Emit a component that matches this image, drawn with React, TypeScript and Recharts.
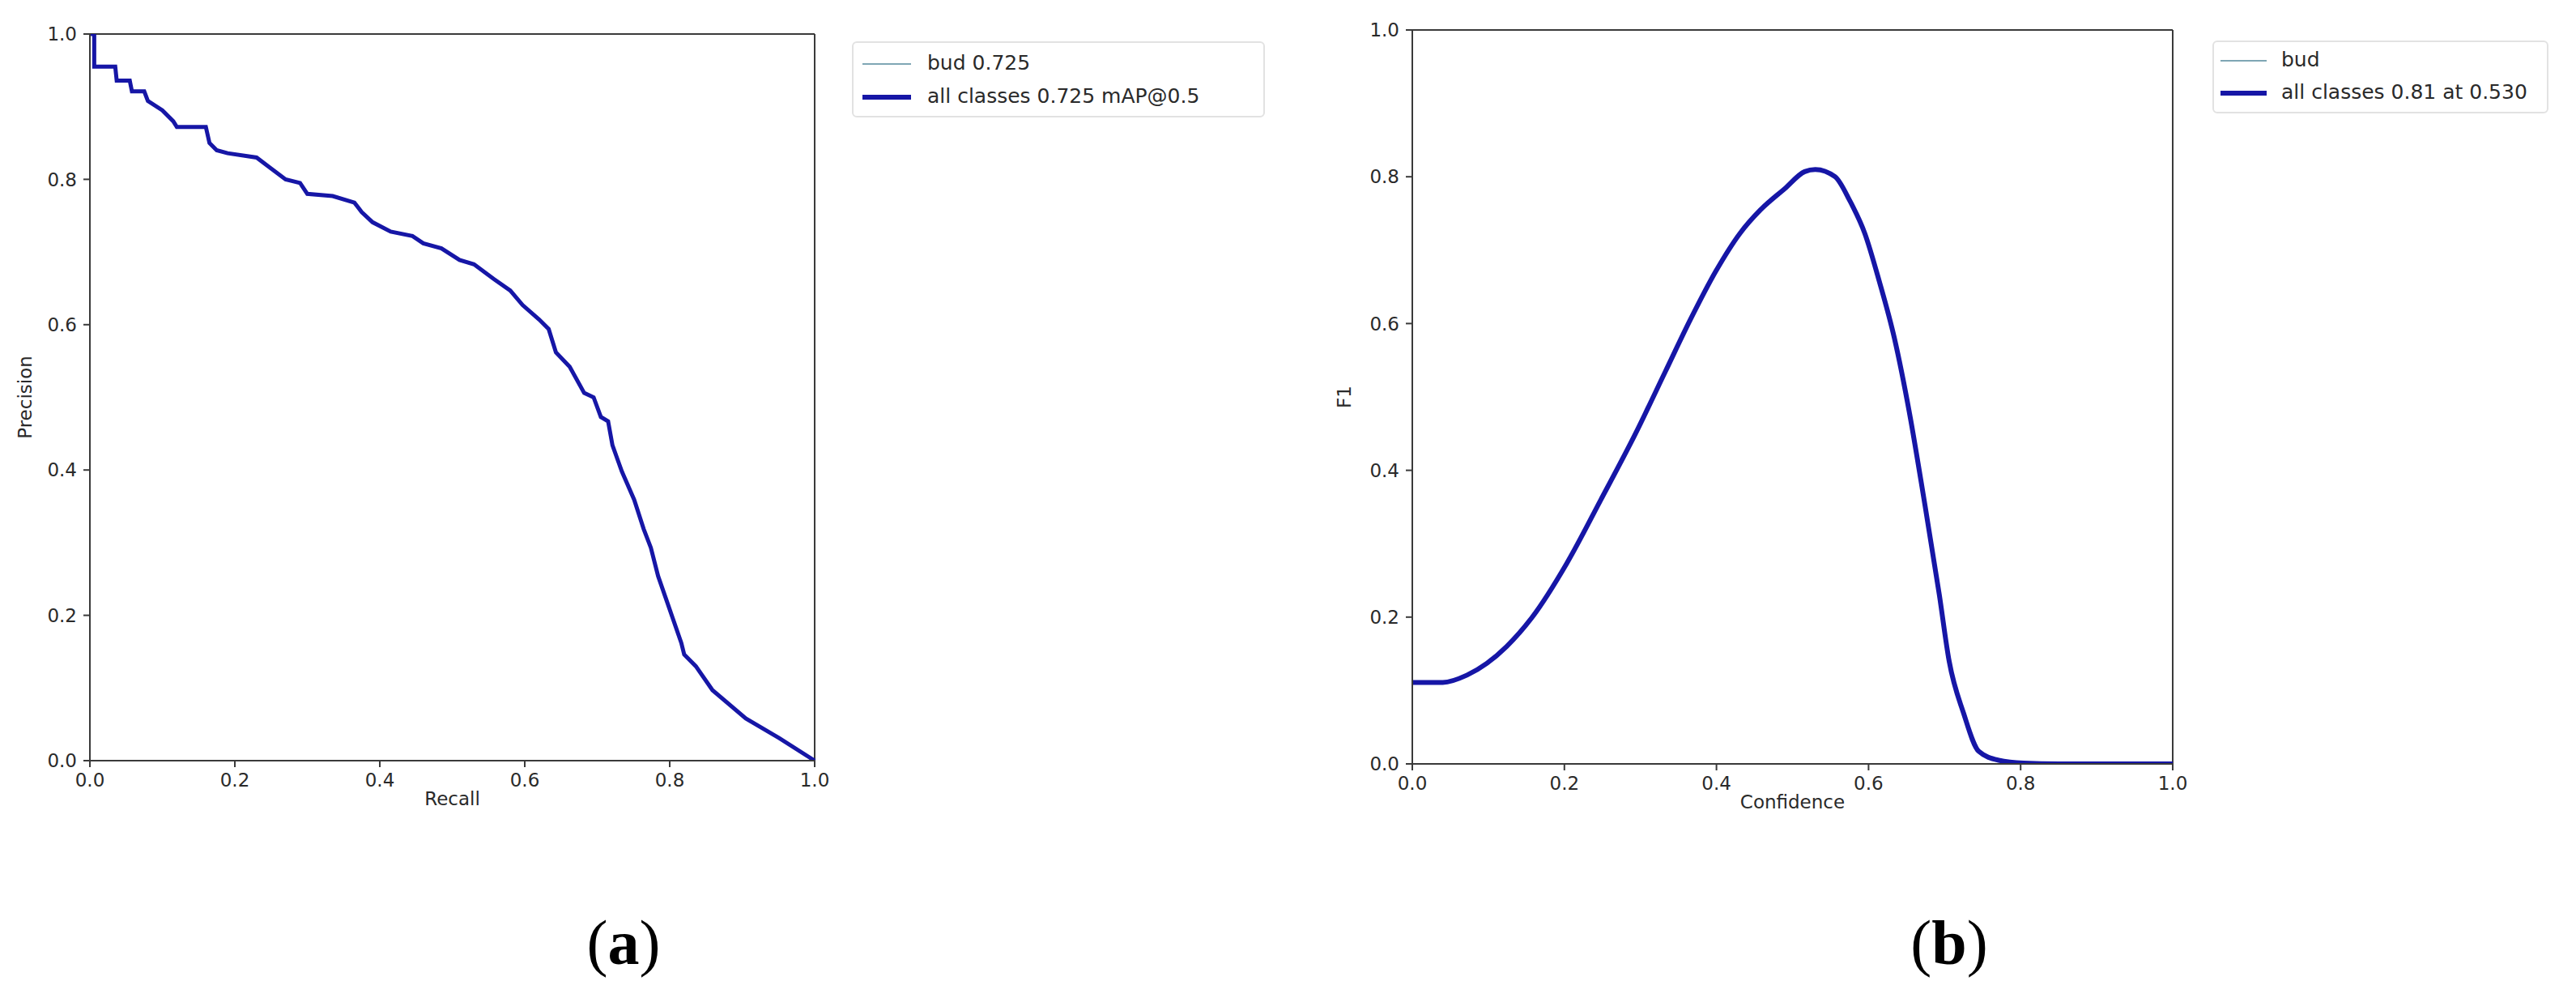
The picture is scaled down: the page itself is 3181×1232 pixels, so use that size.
import { LineChart, Line, XAxis, YAxis, ReferenceLine } from 'recharts'

// PR curve (a)
const recall = [0, 0.006, 0.006, 0.035, 0.037, 0.055, 0.058, 0.075, 0.08, 0.1, 0.115, 0.12, 0.16, 0.165, 0.175, 0.19, 0.23, 0.25, 0.27, 0.29, 0.3, 0.335, 0.365, 0.375, 0.39, 0.415, 0.445, 0.46, 0.485, 0.51, 0.53, 0.557, 0.58, 0.597, 0.62, 0.633, 0.643, 0.662, 0.682, 0.695, 0.705, 0.715, 0.721, 0.734, 0.751, 0.764, 0.774, 0.784, 0.8, 0.816, 0.82, 0.836, 0.859, 0.905, 0.951, 1.0]
const precision = [1.0, 1.0, 0.955, 0.955, 0.936, 0.936, 0.921, 0.921, 0.908, 0.895, 0.88, 0.872, 0.872, 0.85, 0.84, 0.836, 0.83, 0.815, 0.8, 0.795, 0.78, 0.777, 0.768, 0.755, 0.741, 0.728, 0.722, 0.712, 0.705, 0.689, 0.683, 0.663, 0.647, 0.627, 0.607, 0.594, 0.562, 0.542, 0.506, 0.5, 0.473, 0.467, 0.434, 0.398, 0.359, 0.319, 0.293, 0.254, 0.208, 0.162, 0.146, 0.13, 0.097, 0.058, 0.031, 0.0]

// F1 curve (b)
const confidence = [0, 0.04, 0.072, 0.098, 0.124, 0.157, 0.203, 0.248, 0.294, 0.333, 0.366, 0.399, 0.431, 0.458, 0.49, 0.516, 0.53, 0.556, 0.575, 0.595, 0.614, 0.634, 0.654, 0.673, 0.693, 0.706, 0.725, 0.745, 0.771, 0.804, 0.85, 0.9, 1.0]
const f1 = [0.111, 0.111, 0.121, 0.137, 0.16, 0.199, 0.273, 0.36, 0.451, 0.535, 0.606, 0.671, 0.723, 0.755, 0.784, 0.807, 0.81, 0.8, 0.768, 0.723, 0.658, 0.58, 0.477, 0.36, 0.231, 0.14, 0.069, 0.017, 0.005, 0.001, 0, 0, 0]

const ticks = [0, 0.2, 0.4, 0.6, 0.8, 1.0]
const prLegend = ['bud 0.725', 'all classes 0.725 mAP@0.5']
const f1Legend = ['bud', 'all classes 0.81 at 0.530']

const prData = recall.map((r, i) => ({ x: r, bud: precision[i], all: precision[i] }))
const f1Data = confidence.map((c, i) => ({ x: c, bud: f1[i], all: f1[i] }))

const FONT = '"DejaVu Sans", sans-serif'
const BLUE = '#1616a6'
const THIN = '#7fa6b4'
const SPINE = '#3a3a3a'
const tickStyle = { fill: '#2a2a2a', fontSize: 23, fontFamily: FONT }
const fmt = (v: number) => v.toFixed(1)

function Legend({ left, top, width, height, rows, rowY, sampleX, sampleW, textX }: any) {
    return (
        <div style={{ position: 'absolute', left, top, width, height, border: '2px solid #e2e2e2', borderRadius: 6, boxSizing: 'border-box', background: '#fff' }}>
            {rows.map((label: string, i: number) => (
                <div key={label} style={{ position: 'absolute', top: rowY[i], left: 0, height: 0 }}>
                    <div style={{ position: 'absolute', left: sampleX, width: sampleW, top: i === 0 ? -1 : -3, height: i === 0 ? 2 : 6, background: i === 0 ? THIN : BLUE }} />
                    <div style={{ position: 'absolute', left: textX, top: -16, whiteSpace: 'nowrap', fontSize: 25, lineHeight: '30px', fontFamily: FONT, color: '#2a2a2a' }}>{label}</div>
                </div>
            ))}
        </div>
    )
}

function Caption({ x, letter }: { x: number; letter: string }) {
    return (
        <div style={{ position: 'absolute', left: x, top: 1125, transform: 'translateX(-50%)', fontFamily: '"Liberation Serif", serif', fontSize: 78, lineHeight: 1, color: '#000', whiteSpace: 'nowrap' }}>
            (<b>{letter}</b>)
        </div>
    )
}

export default function App() {
    return (
        <div style={{ position: 'absolute', left: 0, top: 0, width: 3181, height: 1232, background: '#fff', overflow: 'hidden' }}>
            <div style={{ position: 'absolute', left: 0, top: 0 }}>
                <LineChart width={1050} height={1060} data={prData} margin={{ top: 42, right: 44, left: 31, bottom: 51 }}>
                    <XAxis
                        dataKey="x"
                        type="number"
                        domain={[0, 1]}
                        ticks={ticks}
                        tickFormatter={fmt}
                        height={70}
                        tick={tickStyle}
                        tickSize={8}
                        tickMargin={8}
                        stroke={SPINE}
                        strokeWidth={2}
                        label={{ value: 'Recall', position: 'insideBottom', offset: 15, style: { ...tickStyle } }}
                    />
                    <YAxis
                        type="number"
                        domain={[0, 1]}
                        ticks={ticks}
                        tickFormatter={fmt}
                        width={80}
                        tick={tickStyle}
                        tickSize={8}
                        tickMargin={8}
                        stroke={SPINE}
                        strokeWidth={2}
                        allowDataOverflow
                        label={{ value: 'Precision', angle: -90, position: 'insideLeft', offset: 0, style: { ...tickStyle, textAnchor: 'middle' } }}
                    />
                    <ReferenceLine y={1} stroke={SPINE} strokeWidth={2} />
                    <ReferenceLine x={1} stroke={SPINE} strokeWidth={2} />
                    <Line dataKey="bud" type="linear" stroke={THIN} strokeWidth={1} dot={false} isAnimationActive={false} />
                    <Line dataKey="all" type="linear" stroke={BLUE} strokeWidth={5} dot={false} isAnimationActive={false} />
                </LineChart>
            </div>
            <Legend left={1052} top={51} width={510} height={94} rows={prLegend} rowY={[26, 67]} sampleX={11} sampleW={60} textX={91} />

            <div style={{ position: 'absolute', left: 1600, top: 0 }}>
                <LineChart width={1140} height={1060} data={f1Data} margin={{ top: 37, right: 57, left: 40, bottom: 47 }}>
                    <XAxis
                        dataKey="x"
                        type="number"
                        domain={[0, 1]}
                        ticks={ticks}
                        tickFormatter={fmt}
                        height={70}
                        tick={tickStyle}
                        tickSize={8}
                        tickMargin={8}
                        stroke={SPINE}
                        strokeWidth={2}
                        label={{ value: 'Confidence', position: 'insideBottom', offset: 15, style: { ...tickStyle } }}
                    />
                    <YAxis
                        type="number"
                        domain={[0, 1]}
                        ticks={ticks}
                        tickFormatter={fmt}
                        width={104}
                        tick={tickStyle}
                        tickSize={8}
                        tickMargin={8}
                        stroke={SPINE}
                        strokeWidth={2}
                        allowDataOverflow
                        label={{ value: 'F1', angle: -90, position: 'insideLeft', offset: 20, style: { ...tickStyle, textAnchor: 'middle' } }}
                    />
                    <ReferenceLine y={1} stroke={SPINE} strokeWidth={2} />
                    <ReferenceLine x={1} stroke={SPINE} strokeWidth={2} />
                    <Line dataKey="bud" type="monotone" stroke={THIN} strokeWidth={1} dot={false} isAnimationActive={false} />
                    <Line dataKey="all" type="monotone" stroke={BLUE} strokeWidth={6} dot={false} isAnimationActive={false} />
                </LineChart>
            </div>
            <Legend left={2732} top={50} width={415} height={90} rows={f1Legend} rowY={[23, 63]} sampleX={8} sampleW={57} textX={83} />

            <Caption x={770} letter="a" />
            <Caption x={2407} letter="b" />
        </div>
    )
}
